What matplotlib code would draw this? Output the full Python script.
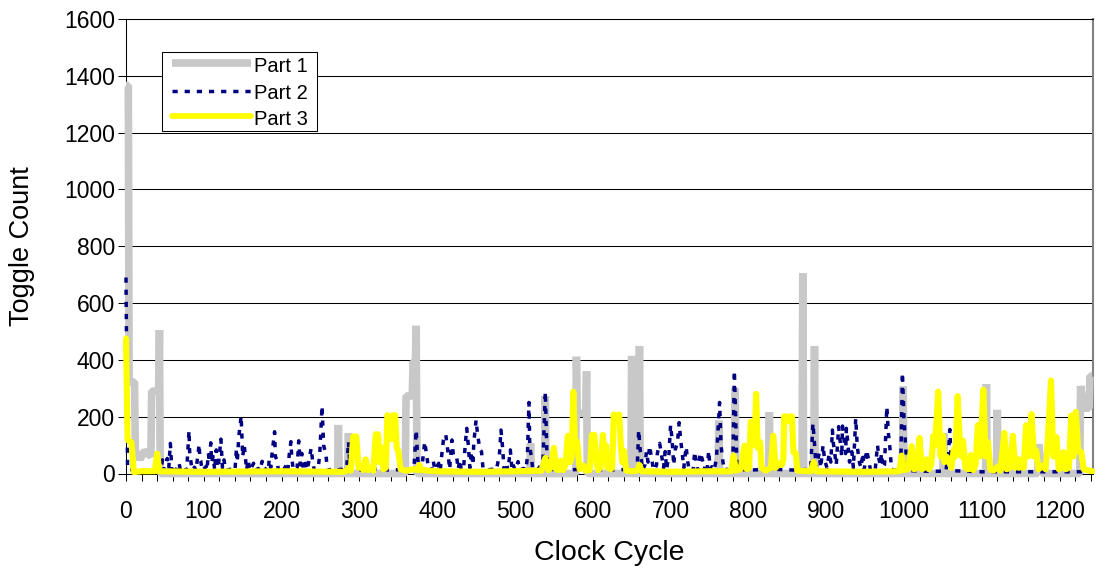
import matplotlib
matplotlib.use("Agg")
import matplotlib.pyplot as plt
from matplotlib.lines import Line2D
from matplotlib.patches import Rectangle

plt.rcParams['font.family'] = ['Liberation Sans', 'DejaVu Sans']

# toggle counts per clock cycle as (cycle, count) points
part1_cycle = [0, 3, 4, 11, 12, 18, 24, 32, 33, 42, 43, 44,
               272, 273, 274, 285, 286, 287,
               359, 360, 368, 369, 372, 373, 374,
               519, 520, 521, 538, 539, 540,
               578, 579, 580, 591, 592, 593,
               649, 650, 651, 659, 660, 661,
               761, 762, 763, 782, 783, 784, 826, 827, 828,
               869, 870, 871, 884, 885, 886, 998, 999, 1000,
               1050, 1051, 1052, 1105, 1106, 1107, 1119, 1120, 1121,
               1172, 1173, 1176, 1178, 1226, 1227, 1231, 1238, 1239, 1242]
part1_count = [1366, 1366, 322, 322, 80, 50, 80, 60, 290, 290, 505, 0,
               0, 171, 0, 0, 141, 0,
               0, 273, 273, 394, 394, 520, 0,
               0, 106, 0, 0, 273, 0,
               0, 411, 212, 212, 359, 0,
               0, 414, 0, 0, 449, 0,
               0, 186, 0, 0, 300, 0, 0, 216, 0,
               0, 705, 0, 0, 449, 0, 0, 306, 0,
               0, 141, 0, 0, 315, 0, 0, 224, 0,
               0, 103, 42, 0, 0, 308, 230, 230, 343, 343]

part2_cycle = [0, 2, 20, 45, 47, 49, 53, 55, 57, 59, 62, 64, 68, 70, 76, 78, 81, 82, 83, 85,
               88, 90, 94, 95, 96, 98, 103, 104, 106, 107, 109, 110, 112, 114, 116, 118, 119,
               122, 124, 126, 128, 134, 140, 142, 143, 145, 148, 150, 152, 155, 157, 159, 164,
               166, 170, 172, 175, 177, 181, 183, 184, 186, 188, 191, 192, 194, 196, 200, 202,
               206, 208, 210, 212, 213, 215, 220, 222, 224, 226, 228, 231, 233, 238, 240, 242,
               247, 249, 252, 254, 257, 259, 265, 270, 276, 281, 284, 286, 288, 300, 320, 340,
               360, 370, 373, 374, 376, 380, 384, 387, 389, 393, 395, 397, 402, 404, 406, 408,
               411, 414, 416, 419, 421, 425, 427, 429, 431, 434, 436, 438, 440, 442, 444, 446,
               447, 450, 452, 455, 457, 459, 465, 470, 476, 480, 482, 484, 486, 489, 491, 494,
               496, 497, 500, 504, 506, 511, 514, 516, 517, 518, 519, 521, 523, 530, 536, 539,
               541, 543, 560, 590, 620, 650, 657, 659, 661, 664, 667, 669, 671, 673, 676, 678,
               680, 682, 683, 686, 689, 691, 693, 695, 698, 700, 702, 704, 706, 709, 711, 713,
               715, 717, 720, 722, 724, 727, 729, 731, 733, 735, 738, 741, 743, 745, 747, 749,
               751, 753, 756, 759, 763, 765, 767, 769, 772, 775, 780, 782, 784, 785, 787, 800,
               830, 860, 880, 883, 885, 887, 891, 893, 896, 898, 901, 904, 906, 908, 909, 911,
               913, 916, 918, 920, 921, 923, 925, 926, 928, 930, 933, 935, 938, 940, 943, 945,
               947, 949, 952, 955, 957, 961, 963, 966, 968, 970, 971, 973, 975, 978, 980, 982,
               984, 988, 994, 996, 998, 1000, 1002, 1004, 1006, 1030, 1054, 1056, 1058, 1059,
               1061, 1100, 1150, 1200, 1242]
part2_count = [690, 15, 10, 12, 48, 12, 53, 20, 106, 12, 30, 10, 38, 12, 22, 10, 151, 60, 50, 12,
               22, 10, 103, 50, 45, 10, 25, 12, 71, 40, 108, 40, 60, 12, 83, 20, 35,
               121, 20, 48, 10, 15, 10, 89, 40, 130, 202, 60, 100, 12, 48, 10, 36,
               10, 18, 10, 43, 10, 20, 12, 48, 20, 77, 147, 60, 48, 10, 18, 10,
               30, 10, 71, 112, 59, 12, 20, 115, 30, 71, 15, 36, 12, 89, 42, 12,
               20, 65, 238, 100, 65, 12, 15, 10, 15, 12, 30, 112, 15, 12, 15, 12,
               15, 12, 153, 100, 15, 12, 112, 53, 15, 12, 44, 12, 36, 12, 68, 118,
               138, 71, 15, 118, 60, 59, 15, 48, 12, 20, 100, 159, 100, 20, 77, 30,
               106, 188, 136, 83, 77, 15, 12, 15, 12, 65, 153, 94, 15, 36, 12, 83,
               20, 36, 12, 42, 12, 18, 12, 59, 165, 250, 94, 59, 12, 15, 48, 288,
               71, 15, 12, 15, 12, 15, 12, 153, 80, 12, 30, 77, 40, 97, 48, 12,
               18, 30, 71, 106, 53, 20, 77, 15, 71, 171, 118, 30, 83, 112, 179, 118,
               71, 20, 94, 42, 12, 18, 12, 77, 30, 12, 73, 48, 12, 30, 12, 80,
               15, 24, 12, 53, 250, 94, 48, 12, 15, 12, 20, 362, 165, 48, 15, 12,
               15, 12, 15, 177, 106, 20, 71, 20, 100, 48, 20, 71, 40, 153, 112, 71,
               30, 165, 112, 60, 167, 118, 70, 159, 106, 40, 77, 20, 194, 94, 36, 20,
               71, 15, 83, 42, 12, 18, 12, 100, 48, 30, 71, 20, 30, 235, 141, 89,
               15, 12, 12, 40, 355, 200, 100, 24, 10, 8, 8, 59, 106, 155,
               10, 6, 6, 6, 6]

part3_cycle = [0, 2, 7, 10, 20, 37, 40, 43, 100, 200, 280, 284, 286, 289, 292, 296, 299, 303,
               305, 308, 311, 315, 318, 321, 324, 326, 328, 331, 334, 336, 339, 341, 343, 346,
               348, 350, 353, 360, 370, 375, 377, 380, 400, 450, 500, 534, 539, 543, 546, 550,
               553, 556, 559, 562, 565, 568, 571, 573, 575, 577, 580, 583, 588, 591, 596, 599,
               602, 604, 607, 610, 613, 615, 617, 619, 621, 623, 625, 627, 630, 634, 636, 638,
               640, 643, 650, 657, 660, 663, 700, 750, 778, 781, 784, 790, 795, 798, 801, 803,
               806, 808, 810, 812, 815, 817, 822, 829, 832, 835, 840, 843, 845, 846, 849, 851,
               854, 856, 858, 861, 863, 880, 884, 887, 950, 994, 997, 1000, 1005, 1010, 1013,
               1017, 1020, 1023, 1026, 1029, 1032, 1035, 1038, 1040, 1044, 1047, 1050, 1052,
               1055, 1058, 1061, 1064, 1066, 1069, 1072, 1074, 1076, 1079, 1083, 1086, 1089,
               1092, 1095, 1098, 1102, 1105, 1108, 1111, 1115, 1121, 1124, 1129, 1132, 1136,
               1140, 1143, 1146, 1148, 1151, 1154, 1157, 1160, 1164, 1167, 1170, 1173, 1179,
               1182, 1185, 1189, 1192, 1196, 1199, 1202, 1205, 1208, 1212, 1215, 1218, 1221,
               1224, 1228, 1231, 1236, 1242]
part3_count = [475, 118, 110, 5, 8, 8, 70, 8, 6, 8, 6, 10, 20, 10, 130, 130, 20, 30,
               12, 50, 12, 20, 10, 138, 138, 40, 92, 15, 20, 205, 195, 120, 205, 205,
               90, 80, 15, 10, 15, 12, 30, 12, 8, 6, 8, 10, 55, 12, 20, 90,
               15, 12, 45, 12, 30, 133, 40, 60, 288, 120, 110, 15, 28, 10, 12, 136,
               136, 50, 12, 20, 136, 60, 98, 20, 48, 15, 20, 208, 200, 208, 100, 40,
               80, 10, 8, 10, 30, 8, 6, 8, 8, 63, 10, 15, 98, 15, 20, 182,
               170, 100, 280, 90, 110, 20, 10, 20, 133, 20, 36, 30, 48, 201, 201, 185,
               201, 201, 75, 70, 10, 8, 40, 8, 6, 8, 63, 12, 15, 96, 15,
               20, 125, 15, 20, 50, 15, 30, 133, 100, 288, 60, 133, 40,
               59, 40, 20, 85, 60, 272, 100, 60, 116, 20, 15, 65, 12,
               30, 170, 60, 295, 60, 110, 15, 10, 25, 10, 143, 15, 20,
               133, 20, 51, 20, 49, 20, 170, 60, 209, 60, 81, 15, 28,
               15, 122, 327, 60, 128, 15, 20, 75, 15, 20, 204, 60, 217,
               80, 75, 15, 12, 8]

series_names = ['Part 1', 'Part 2', 'Part 3']
y_ticks = list(range(0, 1601, 200))
x_ticks = list(range(0, 1241, 20))

W, H = 1102, 570
fig = plt.figure(figsize=(W / 100, H / 100), dpi=100)
ax = fig.add_axes([126 / W, 1 - 473.5 / H, (1093 - 126) / W, (473.5 - 19) / H])

gray = '#c8c8c8'
navy = '#000080'
yellow = '#ffff00'
dash = (0, (1.5, 2.0))

ax.plot(part1_cycle, part1_count, color=gray, lw=5.5, solid_joinstyle='bevel',
        solid_capstyle='butt', clip_on=False, zorder=3)
ax.plot(part2_cycle, part2_count, color=navy, lw=2.5, linestyle=dash,
        clip_on=False, zorder=4)
ax.plot(part3_cycle, part3_count, color=yellow, lw=4.4, solid_joinstyle='round',
        solid_capstyle='round', clip_on=False, zorder=5)

ax.set_xlim(0, 1243)
ax.set_ylim(0, 1600)
ax.set_yticks(y_ticks)
ax.set_xticks(x_ticks)
ax.set_xticklabels([str(t) if t % 100 == 0 else '' for t in x_ticks])
ax.grid(axis='y', color='black', lw=0.75)
ax.set_axisbelow(True)

for s in ['left', 'bottom', 'top']:
    ax.spines[s].set_color('black')
    ax.spines[s].set_linewidth(0.75)
ax.spines['right'].set_color('#808080')
ax.spines['right'].set_linewidth(1.5)

ax.tick_params(axis='y', length=5.5, width=0.75, pad=2.5, labelsize=16.5)
ax.tick_params(axis='x', length=4.8, width=0.75, pad=14, labelsize=16.5)

fig.text(609.5 / W, 1 - 553 / H, 'Clock Cycle', ha='center', va='center', fontsize=20.5)
fig.text(22 / W, 1 - 246 / H, 'Toggle Count', ha='center', va='center',
         rotation=90, fontsize=19.5)

# legend box drawn in figure pixels
def fx(x):
    return x / W

def fy(y):
    return 1 - y / H

fig.add_artist(Rectangle((fx(162), fy(131)), 155 / W, 79 / H, transform=fig.transFigure,
                         facecolor='white', edgecolor='black', lw=0.75, zorder=10))
rows = [63, 91, 116]
baselines = [71.7, 98.7, 124.7]
styles = [dict(color=gray, lw=5.5, solid_capstyle='butt'),
          dict(color=navy, lw=2.5, linestyle=dash),
          dict(color=yellow, lw=4.1, solid_capstyle='round')]
for name, yr, yb, st in zip(series_names, rows, baselines, styles):
    fig.add_artist(Line2D([fx(172), fx(251)], [fy(yr), fy(yr)], transform=fig.transFigure,
                          zorder=11, **st))
    fig.text(fx(254), fy(yb), name, ha='left', va='baseline', fontsize=14.5, zorder=12)

fig.savefig('out.png', dpi=100)
